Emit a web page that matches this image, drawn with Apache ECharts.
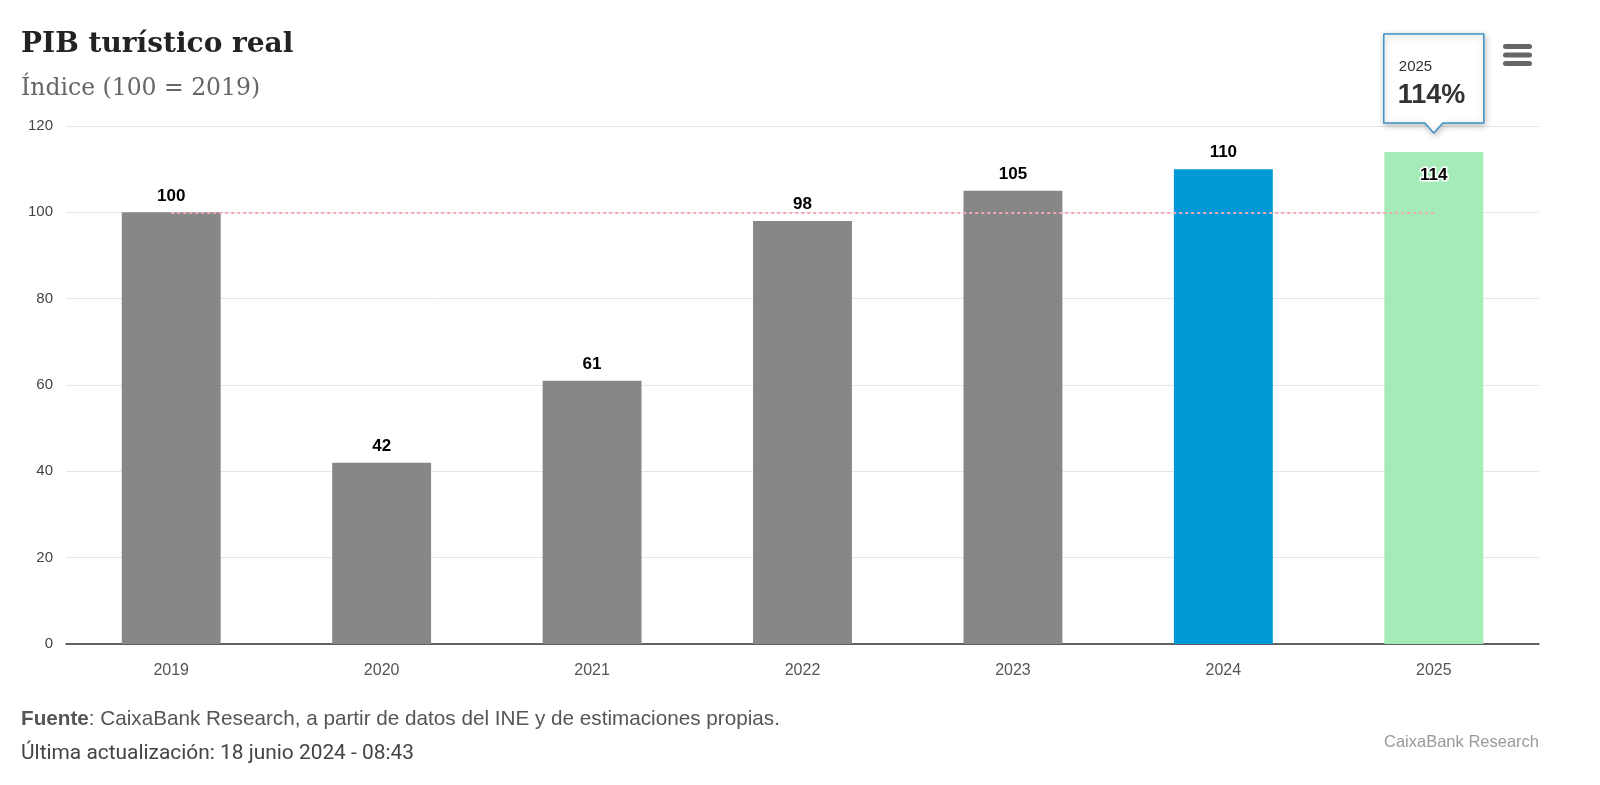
<!DOCTYPE html>
<html>
<head>
<meta charset="utf-8">
<script src="https://cdn.jsdelivr.net/npm/echarts@6/dist/echarts.min.js"></script>
<style>
html,body{margin:0;padding:0;background:#fff;}
#chart{width:1600px;height:785px;}
</style>
</head>
<body>
<div id="chart"></div>
<script>
const categories = ['2019', '2020', '2021', '2022', '2023', '2024', '2025'];
const values = [100, 42, 61, 98, 105, 110, 114];
const barColors = ['#878787', '#878787', '#878787', '#878787', '#878787', '#0099d8', '#a5ebb8'];
const yTicks = [0, 20, 40, 60, 80, 100, 120];
const referenceLevel = 100;
const tooltipIndex = 6;

const chart = echarts.init(document.getElementById('chart'), null, {renderer: 'canvas'});

const dataItems = values.map((v, i) => {
  const item = {value: v, itemStyle: {color: barColors[i]}};
  if (i === tooltipIndex) {
    item.label = {position: 'insideTop', distance: 15, textBorderColor: '#fff', textBorderWidth: 3};
  }
  return item;
});

const option = {
  animation: false,
  backgroundColor: '#ffffff',
  title: [
    {text: 'PIB turístico real', left: 21, top: 31, padding: 0,
     textStyle: {fontFamily: 'DejaVu Serif', fontWeight: 'bold', fontSize: 28, color: '#222'}},
    {text: 'Índice (100 = 2019)', left: 21, top: 77, padding: 0,
     textStyle: {fontFamily: 'DejaVu Serif', fontWeight: 'normal', fontSize: 23.5, color: '#666'}}
  ],
  grid: {left: 66, right: 61, top: 126, bottom: 141, containLabel: false},
  xAxis: {
    type: 'category',
    data: categories,
    axisTick: {show: false},
    axisLine: {lineStyle: {color: '#333', width: 1.5}},
    axisLabel: {color: '#555', fontSize: 16, margin: 19, fontFamily: 'Liberation Sans'}
  },
  yAxis: {
    type: 'value',
    min: 0, max: 120, interval: 20,
    axisLine: {show: false},
    axisTick: {show: false},
    splitLine: {lineStyle: {color: '#e6e6e6', width: 1}},
    axisLabel: {color: '#444', fontSize: 15, margin: 13, fontFamily: 'Liberation Sans',
      formatter: v => yTicks.includes(v) ? String(v) : ''}
  },
  series: [{
    type: 'bar',
    data: dataItems,
    barWidth: '47%',
    label: {show: true, position: 'top', distance: 8, color: '#000', fontWeight: 'bold',
            fontSize: 17, fontFamily: 'Liberation Sans'},
    markLine: {
      silent: true,
      symbol: ['none', 'none'],
      label: {show: false},
      lineStyle: {color: '#f2a9b4', type: [3, 3], width: 2},
      data: [[{coord: [categories[0], referenceLevel]}, {coord: [categories[categories.length - 1], referenceLevel]}]]
    }
  }],
  graphic: [
    {type: 'text', left: 21, top: 709,
     style: {text: '{b|Fuente}: CaixaBank Research, a partir de datos del INE y de estimaciones propias.',
       rich: {b: {fontWeight: 'bold', fontSize: 20.7, fontFamily: 'Liberation Sans', fill: '#555'}},
       fontSize: 20.7, fontFamily: 'Liberation Sans', fill: '#555'}},
    {type: 'text', left: 21, top: 743,
     style: {text: 'Última actualización: 18 junio 2024 - 08:43', fontSize: 20.9, fontFamily: 'Roboto', fill: '#444'}},
    {type: 'text', right: 61, top: 734,
     style: {text: 'CaixaBank Research', fontSize: 16.5, fontFamily: 'Liberation Sans', fill: '#999'}},
    // hamburger menu
    {type: 'rect', shape: {x: 1503, y: 44, width: 29, height: 5, r: 2.5}, style: {fill: '#666'}},
    {type: 'rect', shape: {x: 1503, y: 52.5, width: 29, height: 5, r: 2.5}, style: {fill: '#666'}},
    {type: 'rect', shape: {x: 1503, y: 61, width: 29, height: 5, r: 2.5}, style: {fill: '#666'}}
  ]
};

chart.setOption(option);

// fixed tooltip annotation positioned from the data
const tip = chart.convertToPixel({seriesIndex: 0}, [tooltipIndex, values[tooltipIndex]]);
const cx = tip[0];
const tipY = 133;
const boxW = 100, boxH = 89, boxTop = 34;
const bx = cx - boxW / 2;
chart.setOption({
  graphic: option.graphic.concat([
    {type: 'polygon', z: 100,
     shape: {points: [[bx, boxTop], [bx + boxW, boxTop], [bx + boxW, boxTop + boxH], [cx + 9, boxTop + boxH], [cx, tipY], [cx - 9, boxTop + boxH], [bx, boxTop + boxH]]},
     style: {fill: '#fff', stroke: '#3d92c6', lineWidth: 1.5, lineJoin: 'round',
             shadowBlur: 6, shadowColor: 'rgba(0,0,0,0.25)', shadowOffsetX: 1, shadowOffsetY: 2}},
    {type: 'text', z: 101, x: bx + 15, y: boxTop + 25,
     style: {text: categories[tooltipIndex], fontSize: 15, fontFamily: 'Liberation Sans', fill: '#333'}},
    {type: 'text', z: 101, x: bx + 14, y: boxTop + 48,
     style: {text: values[tooltipIndex] + '%', fontSize: 27, fontWeight: 'bold', fontFamily: 'Liberation Sans', fill: '#333'}}
  ])
});
</script>
</body>
</html>
